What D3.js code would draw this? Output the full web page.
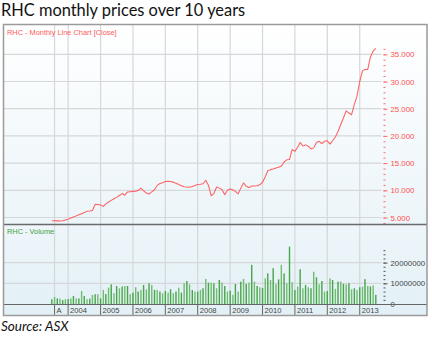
<!DOCTYPE html>
<html><head><meta charset="utf-8">
<script src="https://cdn.jsdelivr.net/npm/d3@7"></script>
<style>body{margin:0;background:#fff} svg{display:block}</style>
</head><body>
<svg id="chart" width="432" height="337"></svg>
<script>
// Monthly close (A$) and monthly volume (millions of shares), Jul 2003 – Jul 2013
const firstMonth = "2003-07";
const closePrices = [
  4.4, 4.4, 4.38, 4.37, 4.4, 4.55,
  4.7, 4.9, 5.1, 5.3, 5.5, 5.7, 5.9, 6.15, 6.2, 6.3, 7.42, 7.4,
  7.3, 7.05, 7.5, 7.85, 8.15, 8.45, 8.7, 9.05, 9.4, 9.1, 9.7, 9.75,
  9.8, 9.85, 9.95, 10.4, 9.9, 9.5, 9.3, 9.7, 10.1, 10.9, 11.25, 11.4,
  11.6, 11.65, 11.6, 11.5, 11.3, 11.05, 10.85, 10.65, 10.6, 10.55, 10.7, 10.9,
  11.05, 11.1, 11.2, 11.85, 10.95, 9.0, 9.4, 10.6, 10.4, 10.15, 9.2, 10.0,
  10.25, 10.1, 9.8, 9.35, 10.4, 11.35, 10.75, 10.5, 10.8, 10.8, 10.85, 11.0,
  11.5, 12.5, 13.6, 13.8, 13.9, 14.1, 14.25, 14.45, 15.2, 15.6, 15.65, 17.5,
  17.15, 17.9, 18.8, 18.15, 18.35, 18.1, 17.6, 17.8, 18.8, 19.0, 18.6, 19.0,
  19.1, 18.5, 19.1, 19.8, 20.8, 22.1, 23.3, 24.6, 24.2, 23.9, 25.8, 27.3,
  30.0, 31.95, 32.2, 32.2, 34.5, 35.6, 36.1
];
const volumeMillions = [
  2.3, 3.4, 2.7, 2.6, 1.9, 2.3,
  2.4, 2.7, 3.9, 2.7, 2.7, 6.3, 3.9, 2.3, 2.6, 4.4, 4.7, 4.7,
  2.7, 6.8, 4.8, 7.9, 9.5, 5.2, 8.7, 7.6, 8.4, 8.7, 8.7, 4.8,
  5.5, 8.1, 6.0, 6.8, 9.2, 7.1, 10.0, 9.2, 6.8, 6.8, 6.0, 5.2,
  6.3, 5.5, 7.1, 5.2, 6.0, 7.9, 5.5, 10.0, 11.1, 9.5, 6.8, 6.0,
  6.0, 6.8, 7.6, 12.1, 10.3, 10.3, 10.0, 7.6, 11.6, 10.3, 8.7, 6.0,
  6.5, 4.4, 9.7, 6.0, 10.8, 12.1, 9.7, 10.3, 18.9, 10.8, 8.7, 8.1,
  7.7, 12.4, 14.8, 11.6, 17.3, 9.7, 11.9, 18.9, 14.8, 10.0, 27.7, 10.5,
  6.8, 8.4, 16.8, 7.6, 9.2, 8.1, 7.6, 15.6, 12.9, 9.5, 11.1, 6.0,
  6.3, 12.4, 11.6, 7.3, 10.8, 10.8, 9.7, 9.5, 10.0, 7.1, 7.6, 6.8,
  8.1, 8.4, 12.0, 8.7, 8.5, 9.0, 4.4
];
const xTickMonths = ["2003-08","2004-01","2005-01","2006-01","2007-01","2008-01","2009-01","2010-01","2011-01","2012-01","2013-01"];
const xTickLabels = ["A","2004","2005","2006","2007","2008","2009","2010","2011","2012","2013"];
const priceTicks = [5, 10, 15, 20, 25, 30, 35];
const volumeTicks = [0, 10000000, 20000000];

const parseMonth = d3.utcParse("%Y-%m");
const start = parseMonth(firstMonth);
const months = closePrices.map((_, i) => d3.utcMonth.offset(start, i));
const rows = months.map((d, i) => ({date: d, close: closePrices[i], volume: volumeMillions[i] * 1e6}));

const svg = d3.select("#chart");
const box = {left: 3.5, right: 427, top: 24.5, bottom: 315.5};
const pricePanel = {top: 25, bottom: 224};
const volPanel = {top: 225, bottom: 304};
const axisX = 383.5;

const x = d3.scaleUtc()
  .domain([months[0], months[months.length - 1]])
  .range([51.8, 375.8]);
const yPrice = d3.scaleLinear().domain([5, 35]).range([217.5, 54.3]);
const yVol = d3.scaleLinear().domain([0, 20000000]).range([304, 262.6]);

// panel backgrounds
const defs = svg.append("defs");
const g1 = defs.append("linearGradient").attr("id", "priceBg").attr("x1", 0).attr("y1", 0).attr("x2", 0).attr("y2", 1);
g1.append("stop").attr("offset", 0).attr("stop-color", "#ffffff");
g1.append("stop").attr("offset", 1).attr("stop-color", "#ecf5f9");
const g2 = defs.append("linearGradient").attr("id", "volBg").attr("x1", 0).attr("y1", 0).attr("x2", 0).attr("y2", 1);
g2.append("stop").attr("offset", 0).attr("stop-color", "#eef6fa");
g2.append("stop").attr("offset", 1).attr("stop-color", "#e2f0f6");

svg.append("rect").attr("x", box.left).attr("y", pricePanel.top)
  .attr("width", box.right - box.left).attr("height", pricePanel.bottom - pricePanel.top)
  .attr("fill", "url(#priceBg)");
svg.append("rect").attr("x", box.left).attr("y", volPanel.top)
  .attr("width", box.right - box.left).attr("height", box.bottom - volPanel.top)
  .attr("fill", "url(#volBg)");

// grid
const tickDates = xTickMonths.map(parseMonth);
const grid = svg.append("g").attr("stroke", "#d5d7d9").attr("stroke-width", 1.2);
grid.selectAll("line.v").data(tickDates).join("line").attr("class", "v")
  .attr("x1", d => x(d)).attr("x2", d => x(d))
  .attr("y1", pricePanel.top).attr("y2", volPanel.bottom);
grid.selectAll("line.hp").data(priceTicks).join("line").attr("class", "hp")
  .attr("x1", box.left).attr("x2", axisX - 2)
  .attr("y1", d => yPrice(d)).attr("y2", d => yPrice(d));
grid.selectAll("line.hv").data(volumeTicks.slice(1)).join("line").attr("class", "hv")
  .attr("x1", box.left).attr("x2", axisX - 2)
  .attr("y1", d => yVol(d)).attr("y2", d => yVol(d));

// volume bars
svg.append("g").selectAll("rect").data(rows).join("rect")
  .attr("x", d => x(d.date) - 0.7).attr("width", 1.4)
  .attr("y", d => yVol(d.volume)).attr("height", d => yVol(0) - yVol(d.volume))
  .attr("fill", (d, i) => i % 2 ? "#70bd70" : "#48a548");

// close line
svg.append("path").datum(rows)
  .attr("fill", "none").attr("stroke", "#ff6060").attr("stroke-width", 1.05)
  .attr("stroke-linejoin", "round")
  .attr("d", d3.line().x(d => x(d.date)).y(d => yPrice(d.close)));

// right-hand axes
const tickFont = "'Liberation Sans', Arial, sans-serif";
const priceMinor = d3.range(4, 37, 1);
const pm = svg.append("g").attr("transform", `translate(${axisX},0)`)
  .call(d3.axisRight(yPrice).tickValues(priceMinor).tickSize(2).tickFormat(""));
pm.select(".domain").remove();
pm.selectAll("line").attr("stroke", "#ff6a6a");
const pM = svg.append("g").attr("transform", `translate(${axisX},0)`)
  .call(d3.axisRight(yPrice).tickValues(priceTicks).tickSize(4).tickPadding(3).tickFormat(d3.format(".3f")));
pM.select(".domain").remove();
pM.selectAll("line").attr("stroke", "#ff6a6a");
pM.selectAll("text").attr("fill", "#ff5050").style("font", `7.8px ${tickFont}`);

const volMinor = d3.range(0, 27000000, 2000000);
const vm = svg.append("g").attr("transform", `translate(${axisX},0)`)
  .call(d3.axisRight(yVol).tickValues(volMinor).tickSize(2).tickFormat(""));
vm.select(".domain").remove();
vm.selectAll("line").attr("stroke", "#555");
const vM = svg.append("g").attr("transform", `translate(${axisX},0)`)
  .call(d3.axisRight(yVol).tickValues(volumeTicks).tickSize(4).tickPadding(3).tickFormat(d3.format("d")));
vM.select(".domain").remove();
vM.selectAll("line").attr("stroke", "#555");
vM.selectAll("text").attr("fill", "#444").style("font", `7.8px ${tickFont}`);

// time axis row
svg.append("line").attr("x1", box.left).attr("x2", box.right)
  .attr("y1", volPanel.bottom + 0.5).attr("y2", volPanel.bottom + 0.5)
  .attr("stroke", "#666").attr("stroke-width", 1);
const xa = svg.append("g");
xa.selectAll("line").data(tickDates).join("line")
  .attr("x1", d => x(d)).attr("x2", d => x(d))
  .attr("y1", volPanel.bottom).attr("y2", box.bottom)
  .attr("stroke", "#666");
xa.selectAll("text").data(tickDates).join("text")
  .attr("x", d => x(d) + 2).attr("y", 313)
  .attr("fill", "#444").style("font", `7.6px ${tickFont}`)
  .text((d, i) => xTickLabels[i]);

// panel divider and frame
svg.append("line").attr("x1", box.left).attr("x2", box.right)
  .attr("y1", 224.5).attr("y2", 224.5).attr("stroke", "#6a6a6a").attr("stroke-width", 1.3);
svg.append("rect").attr("x", box.left).attr("y", box.top)
  .attr("width", box.right - box.left).attr("height", box.bottom - box.top)
  .attr("fill", "none").attr("stroke", "#9a9a9a").attr("stroke-width", 1.5);

// panel captions
svg.append("text").attr("x", 7).attr("y", 35).attr("fill", "#ff5a5a")
  .style("font", `7.4px ${tickFont}`).text("RHC - Monthly Line Chart [Close]");
svg.append("text").attr("x", 7).attr("y", 234).attr("fill", "#3f9f3f")
  .style("font", `7.4px ${tickFont}`).text("RHC - Volume");

// title and source
svg.append("text").attr("x", 1).attr("y", 16).attr("fill", "#111")
  .style("font", "16.4px Lato, 'Open Sans', sans-serif").text("RHC monthly prices over 10 years");
svg.append("text").attr("x", 1).attr("y", 331).attr("fill", "#111")
  .style("font", "italic 13.5px Lato, 'Open Sans', sans-serif").text("Source: ASX");
</script>
</body></html>
